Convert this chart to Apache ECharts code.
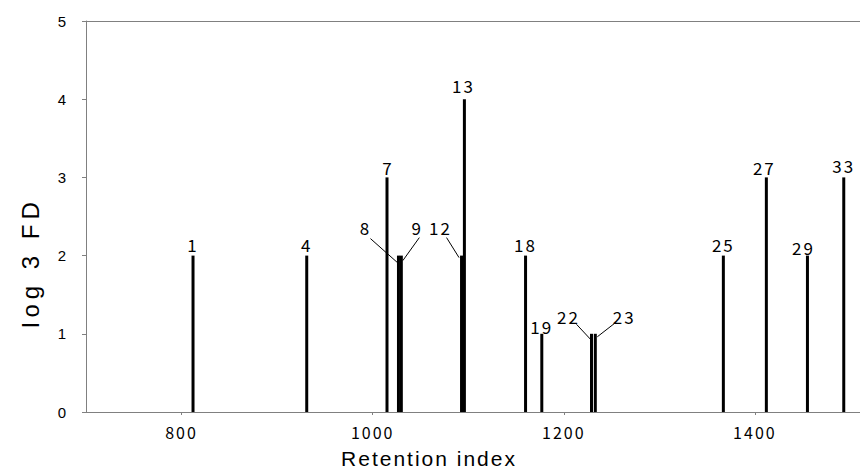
<!DOCTYPE html>
<html>
<head>
<meta charset="utf-8">
<script src="https://cdn.jsdelivr.net/npm/echarts@6/dist/echarts.min.js"></script>
<style>
  html, body { margin: 0; padding: 0; background: #fff; }
  #chart { width: 860px; height: 476px; }
  #chart svg text { letter-spacing: 2px; }
</style>
</head>
<body>
<div id="chart"></div>
<script>
// Peak numbers, their retention indices and log3 FD factors
const peakIds = ['1', '4', '7', '8', '9', '12', '13', '18', '19', '22', '23', '25', '27', '29', '33'];
const retentionIndex = [812, 931, 1015, 1027, 1030, 1093, 1096, 1160, 1177, 1229, 1233, 1367, 1412, 1455, 1493];
const logFD = [2, 2, 3, 2, 2, 2, 4, 2, 1, 1, 1, 2, 3, 2, 3];

// Axis ticks
const xTickValues = [800, 1000, 1200, 1400];
const yTickValues = [0, 1, 2, 3, 4, 5];

// Label placement relative to the top of each peak (pixels)
const labelShift = {
  '7': [1, -10], '13': [-1, -14], '19': [0, -7], '27': [-2, -10], '29': [-4, -8], '33': [0, -12]
};
// Peaks whose numbers sit to the side with a leader line
const callouts = {
  '8':  { label: [-33, -28], line: [[-28, -17], [-1, 7]] },
  '9':  { label: [16, -28],  line: [[18, -18], [1.5, 5]] },
  '12': { label: [-21, -28], line: [[-15, -18], [-2.5, 2]] },
  '22': { label: [-23, -17], line: [[-15, -9.5], [-1, 5.5]] },
  '23': { label: [29, -17],  line: [[20, -11], [2, 3]] }
};

const points = retentionIndex.map((ri, i) => [ri, logFD[i]]);
const axisGrey = '#808080';
const labelFont = '"Noto Sans CJK JP", "Liberation Sans", sans-serif';
const sansFont = '"Liberation Sans", Arial, sans-serif';

const chart = echarts.init(document.getElementById('chart'), null, { renderer: 'svg' });

chart.setOption({
  animation: false,
  backgroundColor: '#fff',
  grid: { left: 86, right: 0, top: 21, bottom: 64, outerBoundsMode: 'none' },
  xAxis: [{
    type: 'value',
    min: 700,
    max: 1510,
    axisLine: { show: true, lineStyle: { color: axisGrey, width: 1 } },
    axisTick: { show: true, customValues: xTickValues, length: 3, lineStyle: { color: axisGrey } },
    axisLabel: {
      customValues: xTickValues, margin: 12, color: '#000',
      fontSize: 16, fontFamily: labelFont,
      formatter: (v) => String(v)
    },
    splitLine: { show: false },
    name: 'Retention index',
    nameLocation: 'middle',
    nameGap: 36,
    nameTextStyle: {
      fontSize: 21, color: '#000', fontFamily: sansFont,
      padding: [0, 88, 0, 0]
    }
  }, {
    type: 'value',
    position: 'top',
    min: 700,
    max: 1510,
    axisLine: { show: true, onZero: false, lineStyle: { color: axisGrey, width: 1 } },
    axisTick: { show: false },
    axisLabel: { show: false },
    splitLine: { show: false }
  }],
  yAxis: {
    type: 'value',
    min: 0,
    max: 5,
    interval: 1,
    axisLine: { show: true, lineStyle: { color: axisGrey, width: 1 } },
    axisTick: { show: true, customValues: yTickValues, length: 4, lineStyle: { color: axisGrey } },
    axisLabel: {
      margin: 18, color: '#000', fontSize: 15, fontFamily: sansFont
    },
    splitLine: { show: false },
    name: 'log 3 FD',
    nameLocation: 'middle',
    nameRotate: 90,
    nameGap: 44,
    nameTextStyle: {
      fontSize: 24, color: '#000', fontFamily: sansFont,
      padding: [0, 92, 0, 0]
    }
  },
  series: [{
    type: 'bar',
    xAxisIndex: 0,
    data: points,
    barWidth: 3,
    itemStyle: { color: '#000' },
    silent: true
  }, {
    type: 'custom',
    xAxisIndex: 0,
    data: points,
    encode: { x: 0, y: 1 },
    clip: false,
    silent: true,
    renderItem: function (params, api) {
      const id = peakIds[params.dataIndex];
      const top = api.coord([api.value(0), api.value(1)]);
      const c = callouts[id];
      const shift = c ? c.label : (labelShift[id] || [0, -11]);
      const children = [{
        type: 'text',
        x: top[0] + shift[0],
        y: top[1] + shift[1],
        style: {
          text: id, fill: '#000', fontSize: 17, fontFamily: labelFont,
          align: 'center', verticalAlign: 'middle'
        }
      }];
      if (c) {
        children.push({
          type: 'line',
          shape: {
            x1: top[0] + c.line[0][0], y1: top[1] + c.line[0][1],
            x2: top[0] + c.line[1][0], y2: top[1] + c.line[1][1]
          },
          style: { stroke: '#000', lineWidth: 1 }
        });
      }
      return { type: 'group', children: children };
    }
  }]
});

// Wider tracking for the vertical axis title
function widenAxisTitle() {
  document.querySelectorAll('#chart svg text').forEach((t) => {
    if (t.textContent.trim() === 'log 3 FD') t.style.letterSpacing = '5px';
  });
}
chart.on('finished', widenAxisTitle);
widenAxisTitle();
</script>
</body>
</html>
